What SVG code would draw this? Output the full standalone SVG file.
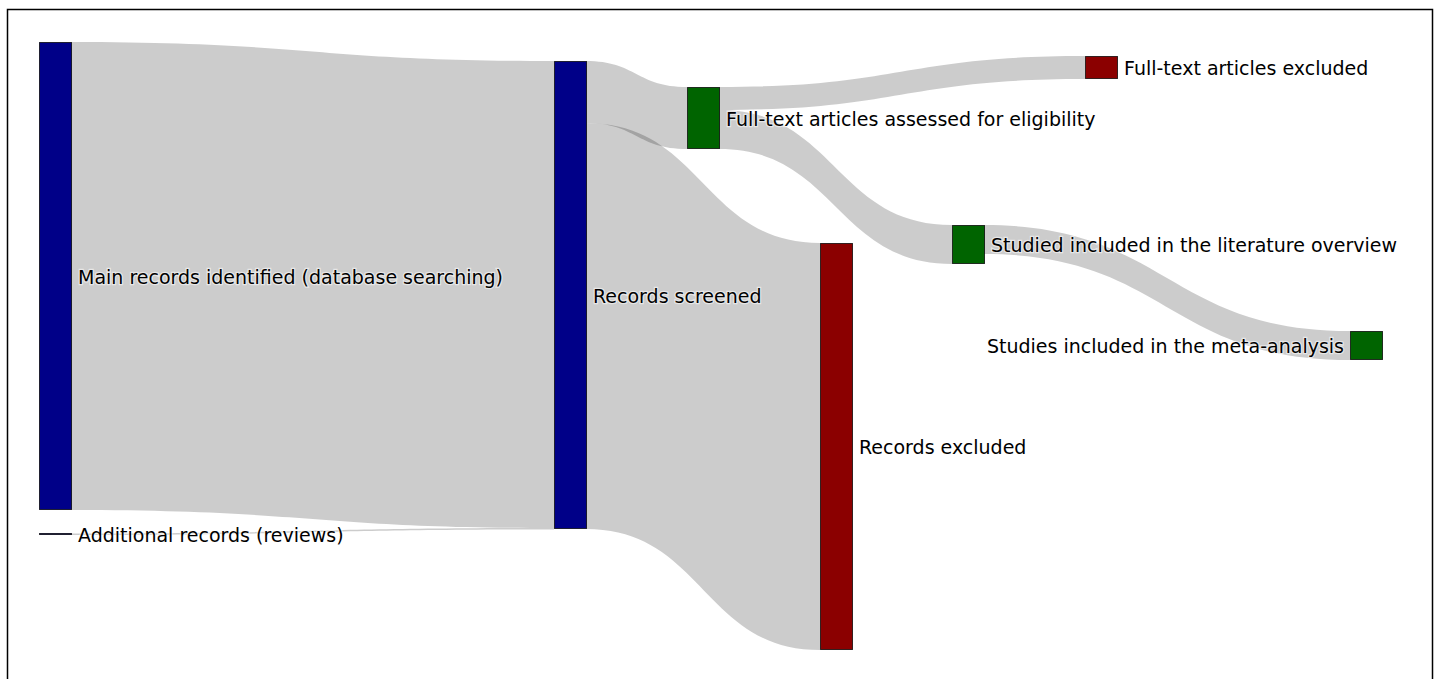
<svg xmlns="http://www.w3.org/2000/svg" width="1436" height="679" viewBox="0 0 1436 679">
<style>
.link{fill:#000;fill-opacity:0.2;}
.node rect{stroke:#000;stroke-width:1;stroke-opacity:0.75;}
.blue{fill:#000088;}
.green{fill:#006400;}
.red{fill:#8b0000;}
text{font-family:"DejaVu Sans",Verdana,sans-serif;font-size:19px;fill:#000;stroke:#fff;stroke-width:2.5px;stroke-opacity:0.55;paint-order:stroke;}
</style>
<rect x="0" y="0" width="1436" height="679" fill="#fff"/>
<rect x="7.5" y="9.5" width="1425" height="700" fill="none" stroke="#000" stroke-width="1.5"/>
<g id="links">
<path class="link" d="M71,42 C312.5,42 312.5,61 554,61 L554,528 C312.5,528 312.5,510 71,510 Z"/>
<path class="link" d="M71,533.5 C312.5,533.5 312.5,528 554,528 L554,529.5 C312.5,529.5 312.5,535 71,535 Z"/>
<path class="link" d="M586,61 C636.5,61 636.5,87 687,87 L687,149 C636.5,149 636.5,123 586,123 Z"/>
<path class="link" d="M586,123 C703,123 703,243 820,243 L820,650 C703,650 703,529 586,529 Z"/>
<path class="link" d="M719,87 C902,87 902,56 1085,56 L1085,79 C902,79 902,110 719,110 Z"/>
<path class="link" d="M719,110 C835.5,110 835.5,225 952,225 L952,264 C835.5,264 835.5,149 719,149 Z"/>
<path class="link" d="M984,225 C1167,225 1167,331 1350,331 L1350,360 C1167,360 1167,254 984,254 Z"/>
</g>
<g id="main" class="node"><rect class="blue" x="39.5" y="42.5" width="32" height="467"/><text x="78" y="283.5">Main records identified (database searching)</text></g>
<g id="additional" class="node"><rect class="blue" x="39.5" y="533.5" width="32" height="1"/><text x="78" y="541.5">Additional records (reviews)</text></g>
<g id="screened" class="node"><rect class="blue" x="554.5" y="61.5" width="32" height="467"/><text x="593" y="302.5">Records screened</text></g>
<g id="assessed" class="node"><rect class="green" x="687.5" y="87.5" width="32" height="61"/><text x="726" y="125.5">Full-text articles assessed for eligibility</text></g>
<g id="excluded" class="node"><rect class="red" x="820.5" y="243.5" width="32" height="406"/><text x="859" y="454">Records excluded</text></g>
<g id="ftexcluded" class="node"><rect class="red" x="1085.5" y="56.5" width="32" height="22"/><text x="1124" y="75">Full-text articles excluded</text></g>
<g id="literature" class="node"><rect class="green" x="952.5" y="225.5" width="32" height="38"/><text x="991" y="252">Studied included in the literature overview</text></g>
<g id="meta" class="node"><rect class="green" x="1350.5" y="331.5" width="32" height="28"/><text x="1344" y="353" text-anchor="end">Studies included in the meta-analysis</text></g>
</svg>
